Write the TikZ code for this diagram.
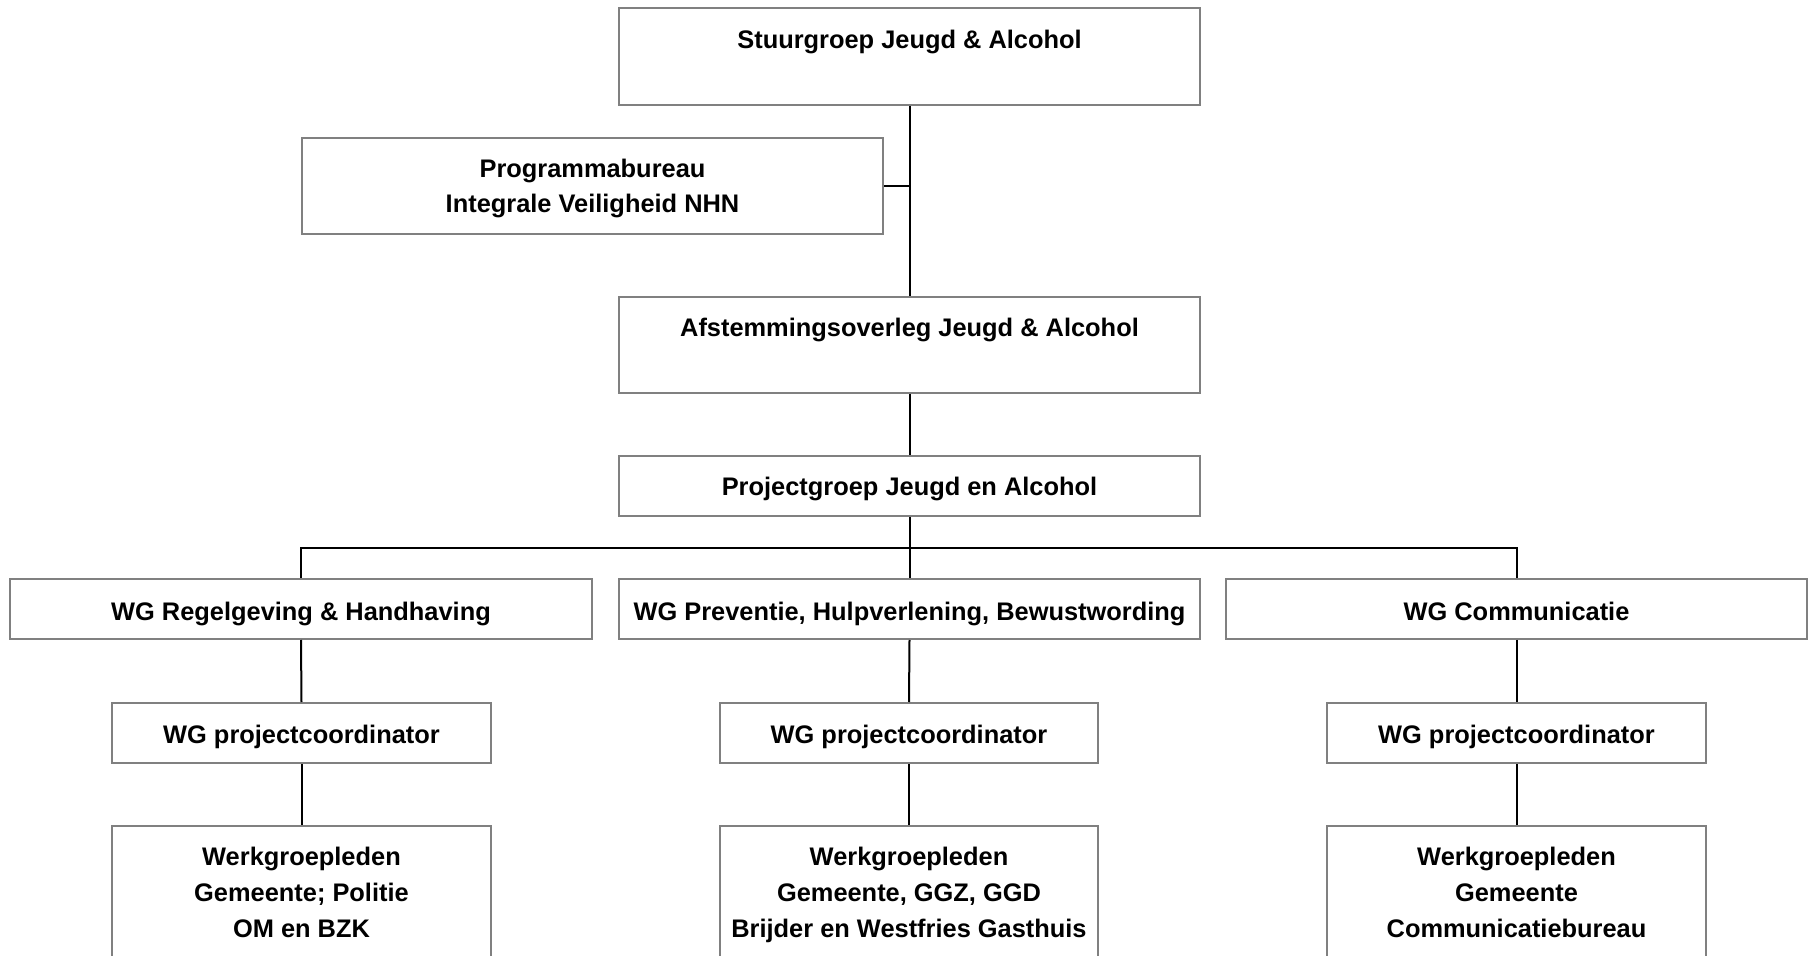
\documentclass[tikz,border=0pt]{standalone}
\usepackage{fontspec}
\setmainfont{Liberation Sans}
\definecolor{boxgray}{RGB}{128,128,128}
\begin{document}
\begin{tikzpicture}[x=0.5pt,y=-0.5pt,
  box/.style={draw=boxgray,line width=1pt,fill=white,inner sep=0pt,rectangle},
  txt/.style={font=\fontsize{12.7}{17.5}\selectfont\bfseries,inner sep=0pt,align=center,anchor=base},
  conn/.style={draw=black,line width=1pt},
  busline/.style={draw=black,line width=1.4pt,line cap=rect}]
\useasboundingbox (0,0) rectangle (1810,956);
\clip (0,0) rectangle (1810,956);
\fill[white] (0,0) rectangle (1810,956);
% boxes
\node[box,minimum width=290.5pt,minimum height=48.5pt] (sg) at (909.5,56.5) {};
\node[box,minimum width=290.5pt,minimum height=48pt] (pb) at (592.5,186) {};
\node[box,minimum width=290.5pt,minimum height=48pt] (af) at (909.5,345) {};
\node[box,minimum width=290.5pt,minimum height=30pt] (pg) at (909.5,486) {};
\node[box,minimum width=291pt,minimum height=30pt] (wg1) at (301,609) {};
\node[box,minimum width=290.5pt,minimum height=30pt] (wg2) at (909.5,609) {};
\node[box,minimum width=290.5pt,minimum height=30pt] (wg3) at (1516.5,609) {};
\node[box,minimum width=189.5pt,minimum height=30pt] (co1) at (301.5,733) {};
\node[box,minimum width=189pt,minimum height=30pt] (co2) at (909,733) {};
\node[box,minimum width=189.5pt,minimum height=30pt] (co3) at (1516.5,733) {};
\node[box,minimum width=189.5pt,minimum height=80pt] (wl1) at (301.5,906) {};
\node[box,minimum width=189pt,minimum height=80pt] (wl2) at (909,906) {};
\node[box,minimum width=189.5pt,minimum height=80pt] (wl3) at (1516.5,906) {};
% texts (anchor base = baseline of the last line)
\node[txt] (tsg) at (909.5,49) {Stuurgroep Jeugd \& Alcohol};
\node[txt] (tpb) at (592.5,212.5) {Programmabureau\\Integrale Veiligheid NHN};
\node[txt] (taf) at (909.5,336.5) {Afstemmingsoverleg Jeugd \& Alcohol};
\node[txt] (tpg) at (909.5,495.5) {Projectgroep Jeugd en Alcohol};
\node[txt] (twg1) at (301,620.5) {WG Regelgeving \& Handhaving};
\node[txt] (twg2) at (909.5,620.5) {WG Preventie, Hulpverlening, Bewustwording};
\node[txt] (twg3) at (1516.5,620.5) {WG Communicatie};
\node[txt] (tco1) at (301.5,743.5) {WG projectcoordinator};
\node[txt] (tco2) at (909,743.5) {WG projectcoordinator};
\node[txt] (tco3) at (1516.5,743.5) {WG projectcoordinator};
\node[txt,font=\fontsize{12.7}{18}\selectfont\bfseries] (twl1) at (301.5,937.5) {Werkgroepleden\\Gemeente; Politie\\OM en BZK};
\node[txt,font=\fontsize{12.7}{18}\selectfont\bfseries] (twl2) at (909,937.5) {Werkgroepleden\\Gemeente, GGZ, GGD\\Brijder en Westfries Gasthuis};
\node[txt,font=\fontsize{12.7}{18}\selectfont\bfseries] (twl3) at (1516.5,937.5) {Werkgroepleden\\Gemeente\\Communicatiebureau};
% connectors
\coordinate (bus) at (909.5,548);
\draw[conn] (sg.south) -- (af.north);
\draw[conn] (pb.east) -- (pb.east -| sg.south);
\draw[conn] (af.south) -- (pg.north);
\draw[conn] (pg.south) -- (bus);
\draw[conn] (wg1.north) -- (wg1.north |- bus);
\draw[conn] (wg2.north) -- (wg2.north |- bus);
\draw[conn] (wg3.north) -- (wg3.north |- bus);
\draw[busline] (wg1.north |- bus) -- (wg3.north |- bus);
\draw[conn] (wg1.south) -- (co1.north);
\draw[conn] (wg2.south) -- (co2.north);
\draw[conn] (wg3.south) -- (co3.north);
\draw[conn] (co1.south) -- (wl1.north);
\draw[conn] (co2.south) -- (wl2.north);
\draw[conn] (co3.south) -- (wl3.north);
\end{tikzpicture}
\end{document}
